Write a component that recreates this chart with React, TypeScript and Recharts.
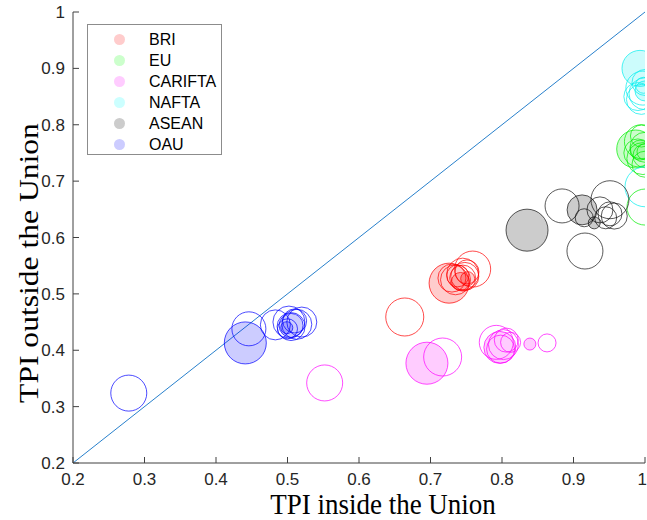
import React from 'react';
import { ScatterChart, Scatter, XAxis, YAxis, ZAxis, ReferenceLine, Legend, Label } from 'recharts';

// x: TPI inside, y: TPI outside, z: bubble size (area units), f: filled marker
const BRI = [
  { x: 0.726, y: 0.519, z: 400, f: 1 },
  { x: 0.664, y: 0.459, z: 361, f: 0 },
  { x: 0.759, y: 0.544, z: 324, f: 0 },
  { x: 0.745, y: 0.535, z: 256, f: 0 },
  { x: 0.745, y: 0.528, z: 169, f: 0 },
  { x: 0.735, y: 0.525, z: 225, f: 0 },
  { x: 0.751, y: 0.539, z: 144, f: 0 },
  { x: 0.742, y: 0.522, z: 81, f: 1 },
  { x: 0.748, y: 0.531, z: 196, f: 0 },
  { x: 0.738, y: 0.532, z: 121, f: 0 },
  { x: 0.752, y: 0.527, z: 49, f: 1 },
  { x: 0.730, y: 0.528, z: 196, f: 0 },
];
const EU = [
  { x: 0.987, y: 0.757, z: 361, f: 1 },
  { x: 0.995, y: 0.770, z: 289, f: 0 },
  { x: 1.0, y: 0.760, z: 225, f: 0 },
  { x: 0.990, y: 0.750, z: 196, f: 0 },
  { x: 0.997, y: 0.740, z: 256, f: 0 },
  { x: 1.0, y: 0.745, z: 144, f: 0 },
  { x: 0.993, y: 0.755, z: 100, f: 1 },
  { x: 1.0, y: 0.730, z: 169, f: 0 },
  { x: 0.995, y: 0.780, z: 121, f: 0 },
  { x: 1.0, y: 0.752, z: 64, f: 0 },
  { x: 1.0, y: 0.654, z: 324, f: 0 },
];
const CARIFTA = [
  { x: 0.695, y: 0.377, z: 441, f: 1 },
  { x: 0.717, y: 0.388, z: 361, f: 0 },
  { x: 0.797, y: 0.405, z: 256, f: 1 },
  { x: 0.792, y: 0.414, z: 289, f: 0 },
  { x: 0.802, y: 0.410, z: 225, f: 0 },
  { x: 0.806, y: 0.418, z: 144, f: 0 },
  { x: 0.812, y: 0.414, z: 100, f: 0 },
  { x: 0.798, y: 0.402, z: 196, f: 0 },
  { x: 0.839, y: 0.411, z: 36, f: 1 },
  { x: 0.863, y: 0.413, z: 81, f: 0 },
  { x: 0.552, y: 0.342, z: 324, f: 0 },
];
const NAFTA = [
  { x: 0.993, y: 0.900, z: 324, f: 1 },
  { x: 0.997, y: 0.865, z: 289, f: 0 },
  { x: 1.0, y: 0.855, z: 256, f: 0 },
  { x: 0.990, y: 0.850, z: 196, f: 0 },
  { x: 1.0, y: 0.875, z: 169, f: 0 },
  { x: 0.995, y: 0.845, z: 225, f: 0 },
  { x: 1.0, y: 0.860, z: 100, f: 1 },
  { x: 0.998, y: 0.870, z: 64, f: 0 },
  { x: 1.0, y: 0.690, z: 400, f: 0 },
];
const ASEAN = [
  { x: 0.835, y: 0.613, z: 441, f: 1 },
  { x: 0.884, y: 0.656, z: 289, f: 0 },
  { x: 0.912, y: 0.649, z: 225, f: 1 },
  { x: 0.916, y: 0.576, z: 324, f: 0 },
  { x: 0.951, y: 0.667, z: 361, f: 0 },
  { x: 0.951, y: 0.642, z: 144, f: 0 },
  { x: 0.937, y: 0.649, z: 169, f: 0 },
  { x: 0.929, y: 0.626, z: 36, f: 1 },
  { x: 0.915, y: 0.635, z: 81, f: 0 },
  { x: 0.945, y: 0.635, z: 121, f: 0 },
  { x: 0.957, y: 0.638, z: 169, f: 0 },
];
const OAU = [
  { x: 0.441, y: 0.413, z: 441, f: 1 },
  { x: 0.446, y: 0.438, z: 289, f: 0 },
  { x: 0.483, y: 0.445, z: 225, f: 0 },
  { x: 0.502, y: 0.450, z: 256, f: 0 },
  { x: 0.505, y: 0.442, z: 196, f: 0 },
  { x: 0.510, y: 0.452, z: 144, f: 0 },
  { x: 0.500, y: 0.438, z: 100, f: 0 },
  { x: 0.513, y: 0.446, z: 225, f: 0 },
  { x: 0.505, y: 0.444, z: 144, f: 1 },
  { x: 0.499, y: 0.440, z: 36, f: 1 },
  { x: 0.520, y: 0.450, z: 225, f: 0 },
  { x: 0.278, y: 0.324, z: 324, f: 0 },
];

const SERIES_NAMES = ['BRI', 'EU', 'CARIFTA', 'NAFTA', 'ASEAN', 'OAU'];
const SERIES_COLORS = ['#ff0000', '#00ee00', '#ff00ff', '#00eeee', '#000000', '#0000ff'];
const SERIES_DATA = [BRI, EU, CARIFTA, NAFTA, ASEAN, OAU];
const LEGEND_FILLS = ['#ffcccc', '#ccffcc', '#ffccff', '#ccffff', '#cccccc', '#ccccff'];

const TICKS = [0.2, 0.3, 0.4, 0.5, 0.6, 0.7, 0.8, 0.9, 1];
const DIAGONAL = [{ x: 0.2, y: 0.2 }, { x: 1, y: 1 }];

const AXIS_COLOR = '#404040';
const fmt = (v: number) => String(+Number(v).toFixed(1));

const XTick = (props: any) => {
  const { x, y, payload } = props;
  const last = Number(payload.value) >= 1;
  return (
    <g>
      <line x1={x} x2={x} y1={y} y2={y - 6} stroke={AXIS_COLOR} strokeWidth={1} />
      <text
        x={last ? x + 2 : x}
        y={y + 22}
        textAnchor={last ? 'end' : 'middle'}
        fontFamily="'Liberation Sans', Arial, sans-serif"
        fontSize={17}
        fill="#262626"
      >
        {fmt(payload.value)}
      </text>
    </g>
  );
};

const YTick = (props: any) => {
  const { x, y, payload } = props;
  return (
    <g>
      <line x1={x} x2={x + 6} y1={y} y2={y} stroke={AXIS_COLOR} strokeWidth={1} />
      <text x={x - 8} y={y + 6} textAnchor="end" fontFamily="'Liberation Sans', Arial, sans-serif" fontSize={17} fill="#262626">
        {fmt(payload.value)}
      </text>
    </g>
  );
};

const makeShape = (color: string) => (props: any) => {
  const { cx, cy, width, size, payload } = props;
  const r = width ? width / 2 : Math.sqrt(Math.max(size || 0, 0) / Math.PI);
  const filled = payload && payload.f;
  return (
    <circle
      cx={cx}
      cy={cy}
      r={r}
      fill={filled ? color : 'none'}
      fillOpacity={filled ? 0.2 : 0}
      stroke={color}
      strokeOpacity={color === '#000000' ? 0.65 : 0.7}
      strokeWidth={1}
    />
  );
};

const LegendBox = () => (
  <div
    style={{
      width: 133,
      height: 129,
      border: '1px solid #8c8c8c',
      background: '#fff',
      boxSizing: 'content-box',
      position: 'relative',
      fontFamily: "'Liberation Sans', Arial, sans-serif",
      fontSize: 16,
      color: '#000',
    }}
  >
    {SERIES_NAMES.map((name, i) => (
      <div key={name} style={{ position: 'absolute', left: 0, top: 4 + i * 21, height: 21, width: 133 }}>
        <span
          style={{
            position: 'absolute',
            left: 26,
            top: 5,
            width: 11,
            height: 11,
            borderRadius: '50%',
            background: LEGEND_FILLS[i],
          }}
        />
        <span style={{ position: 'absolute', left: 61, top: 1, lineHeight: '20px' }}>{name}</span>
      </div>
    ))}
  </div>
);

export default function App() {
  return (
    <div style={{ position: 'absolute', left: 0, top: 0, width: 647, height: 520, background: '#fff' }}>
      <ScatterChart width={647} height={520} margin={{ top: 12, right: 2, bottom: 0, left: 0 }}>
        <XAxis
          type="number"
          dataKey="x"
          domain={[0.2, 1]}
          ticks={TICKS}
          interval={0}
          allowDataOverflow
          height={57}
          tickSize={0}
          tickMargin={0}
          tickLine={false}
          tick={<XTick />}
          axisLine={{ stroke: AXIS_COLOR, strokeWidth: 1 }}
        >
          <Label
            content={() => (
              <text
                x={0}
                y={0}
                transform="translate(383, 514) scale(1, 1.1)"
                textAnchor="middle"
                fontFamily="'Liberation Serif', 'Times New Roman', serif"
                fontSize={27}
                fill="#000"
              >
                TPI inside the Union
              </text>
            )}
          />
        </XAxis>
        <YAxis
          type="number"
          dataKey="y"
          domain={[0.2, 1]}
          ticks={TICKS}
          interval={0}
          allowDataOverflow
          width={73}
          tickSize={0}
          tickMargin={0}
          tickLine={false}
          tick={<YTick />}
          axisLine={{ stroke: AXIS_COLOR, strokeWidth: 1 }}
        >
          <Label
            content={() => (
              <text
                x={0}
                y={0}
                transform="translate(38, 263) rotate(-90) scale(1.17, 1)"
                textAnchor="middle"
                fontFamily="'Liberation Serif', 'Times New Roman', serif"
                fontSize={27}
                fill="#000"
              >
                TPI outside the Union
              </text>
            )}
          />
        </YAxis>
        <ZAxis type="number" dataKey="z" domain={[0, 500]} range={[0, 500 * Math.PI]} />
        <ReferenceLine segment={DIAGONAL} stroke="#2880cc" strokeWidth={1} ifOverflow="visible" />
        {SERIES_NAMES.map((name, i) => (
          <Scatter
            key={name}
            name={name}
            data={SERIES_DATA[i]}
            fill={SERIES_COLORS[i]}
            shape={makeShape(SERIES_COLORS[i])}
            isAnimationActive={false}
          />
        ))}
        <Legend
          layout="horizontal"
          verticalAlign="middle"
          align="center"
          content={<LegendBox />}
          wrapperStyle={{ position: 'absolute', left: 87, top: 24, width: 135, height: 131, margin: 0, padding: 0 }}
        />
      </ScatterChart>
    </div>
  );
}
